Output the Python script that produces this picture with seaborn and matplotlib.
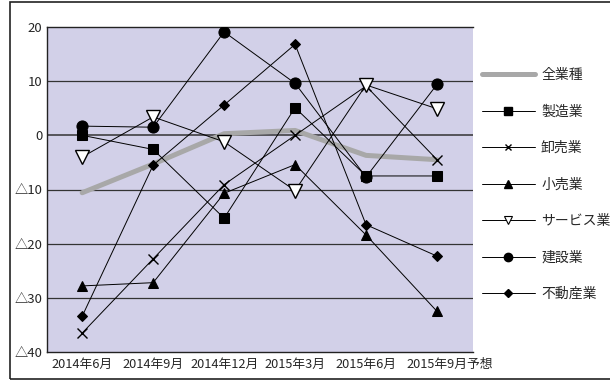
import matplotlib
matplotlib.use("Agg")
import matplotlib.pyplot as plt
from matplotlib.lines import Line2D
from matplotlib.patches import Rectangle
import matplotlib.transforms as mtransforms
import seaborn as sns
import numpy as np

# ---- data ----
periods = ["2014年6月", "2014年9月", "2014年12月", "2015年3月", "2015年6月", "2015年9月予想"]
all_industries = [-10.6, -5.3, 0.3, 0.9, -3.7, -4.5]
manufacturing = [0.0, -2.6, -15.3, 5.1, -7.5, -7.5]
wholesale = [-36.5, -22.8, -9.1, 0.0, 9.1, -4.5]
retail = [-27.8, -27.2, -10.7, -5.4, -18.4, -32.5]
services = [-4.0, 3.4, -1.2, -10.2, 9.3, 4.9]
construction = [1.7, 1.5, 19.1, 9.6, -7.7, 9.4]
real_estate = [-33.4, -5.5, 5.6, 16.8, -16.5, -22.3]
series_names = ["全業種", "製造業", "卸売業", "小売業", "サービス業", "建設業", "不動産業"]
yticks = [20, 10, 0, -10, -20, -30, -40]
ytick_labels = ["20", "10", "0", "△10", "△20", "△30", "△40"]

sns.set_theme(style="white")
FONT = ["Noto Sans CJK JP", "DejaVu Sans"]
plt.rcParams["font.family"] = FONT

fig = plt.figure(figsize=(6.1, 3.81), dpi=100)
ax = fig.add_axes([46.7 / 610, 1 - 352 / 381, (472.5 - 46.7) / 610, (352 - 27) / 381])
ax.set_facecolor("#D2D0E8")

x = np.arange(len(periods))

styles = [
    (all_industries, dict(color="#A8A8A8", linewidth=3.6, marker=None)),
    (manufacturing, dict(color="black", linewidth=0.7, marker="s", markersize=7.5,
                         markerfacecolor="black", markeredgecolor="black")),
    (wholesale, dict(color="black", linewidth=0.7, marker="x", markersize=7,
                     markeredgecolor="black", markeredgewidth=1.0)),
    (retail, dict(color="black", linewidth=0.7, marker="^", markersize=7,
                  markerfacecolor="black", markeredgecolor="black")),
    (services, dict(color="black", linewidth=0.7, marker="v", markersize=10,
                    markerfacecolor="white", markeredgecolor="black", markeredgewidth=1.0)),
    (construction, dict(color="black", linewidth=0.7, marker="o", markersize=8,
                        markerfacecolor="black", markeredgecolor="black")),
    (real_estate, dict(color="black", linewidth=0.7, marker="D", markersize=5,
                       markerfacecolor="black", markeredgecolor="black")),
]

# gridlines
for v in [10, 0, -10, -20, -30]:
    ax.axhline(v, color="#333333", linewidth=1.1 if v == 0 else 0.9, zorder=1)

for vals, kw in styles:
    sns.lineplot(x=x, y=vals, ax=ax, legend=False, zorder=3, **kw)

ax.set_xlim(-0.5, len(periods) - 0.5)
ax.set_ylim(-40, 20)
ax.set_yticks(yticks)
ax.set_yticklabels(ytick_labels, fontsize=9.5, family=FONT)
ax.set_xticks(x)
ax.set_xticklabels(periods, fontsize=9.2, family=FONT)
ax.tick_params(axis="both", length=0, pad=3)
ax.tick_params(axis="x", pad=4)
ax.set_xlabel("")
ax.set_ylabel("")
ax.grid(False)

# last x label sits a little to the right in the reference
last = ax.get_xticklabels()[-1]
last.set_transform(last.get_transform() + mtransforms.ScaledTranslation(13 / 100, 0, fig.dpi_scale_trans))

for side in ["left", "top", "bottom"]:
    ax.spines[side].set_visible(True)
    ax.spines[side].set_color("#222222")
    ax.spines[side].set_linewidth(1.0)
ax.spines["right"].set_visible(False)

# legend
handles = []
legend_kw = [
    dict(color="#A8A8A8", linewidth=3.6),
    dict(color="black", linewidth=0.7, marker="s", markersize=6),
    dict(color="black", linewidth=0.7, marker="x", markersize=5, markeredgewidth=1.0),
    dict(color="black", linewidth=0.7, marker="^", markersize=5.5),
    dict(color="black", linewidth=0.7, marker="v", markersize=6, markerfacecolor="white",
         markeredgecolor="black", markeredgewidth=0.8),
    dict(color="black", linewidth=0.7, marker="o", markersize=6),
    dict(color="black", linewidth=0.7, marker="D", markersize=4.5),
]
for name, kw in zip(series_names, legend_kw):
    handles.append(Line2D([0], [0], label=name, **kw))
leg = ax.legend(handles=handles, loc="upper left", bbox_to_anchor=(482 / 610, 1 - 68 / 381),
                bbox_transform=fig.transFigure, frameon=False,
                handlelength=3.8, handletextpad=0.45, labelspacing=1.62,
                borderaxespad=0, borderpad=0, prop={"family": FONT, "size": 10})

# outer frame
fig.patches.append(Rectangle((10 / 610, 2 / 381), 1.2, 377 / 381, transform=fig.transFigure,
                             fill=False, edgecolor="#222222", linewidth=1.2, zorder=0))

fig.savefig("out.png", dpi=100, facecolor="white")
